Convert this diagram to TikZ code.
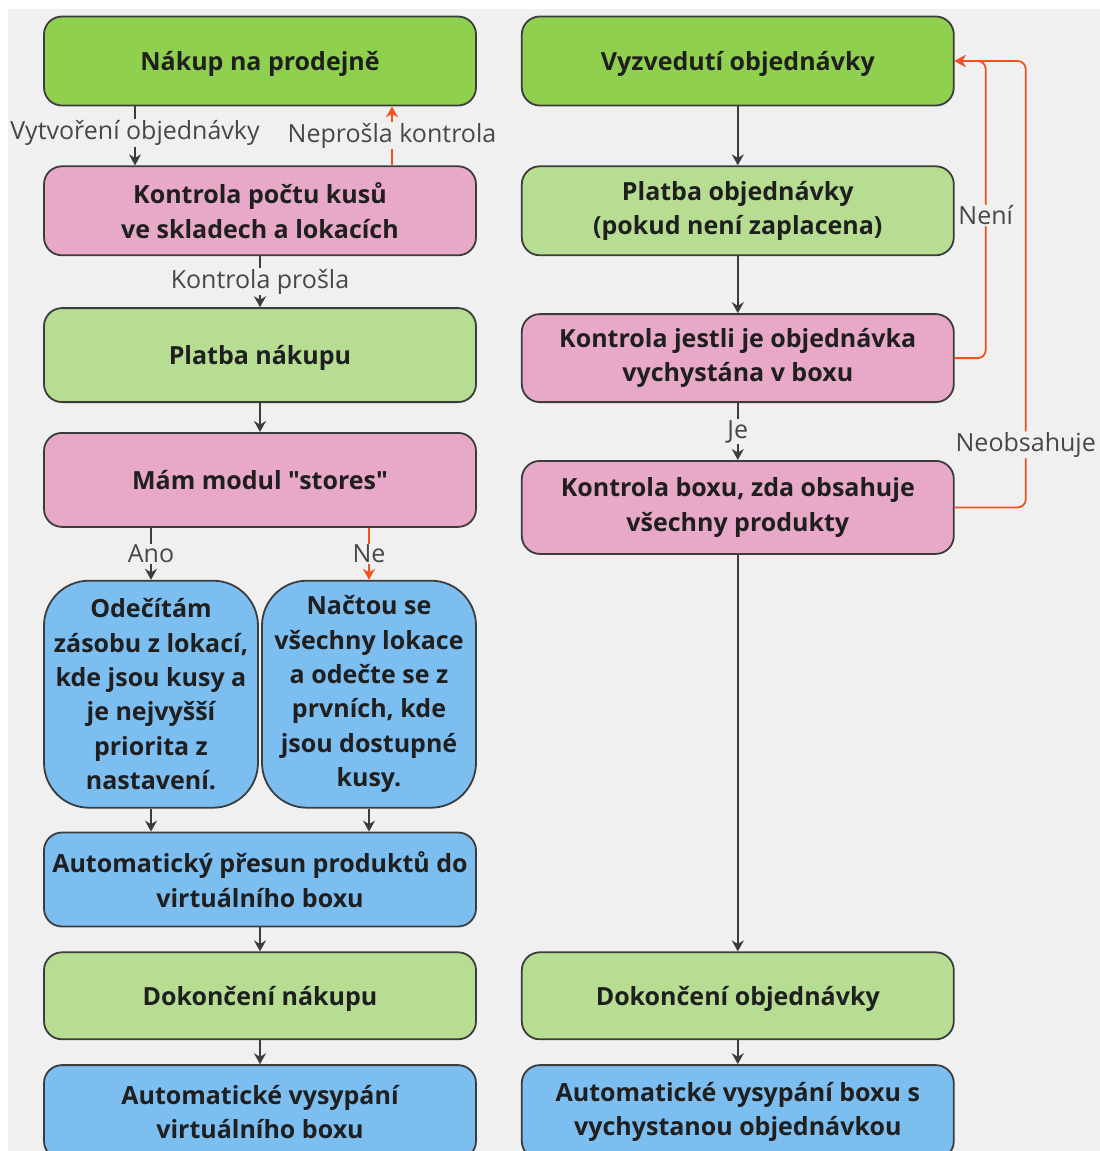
\documentclass[tikz,border=0pt]{standalone}
\usepackage{fontspec}
\setmainfont{Open Sans}[Ligatures=TeXOff]
\usepackage{xcolor}
\usetikzlibrary{positioning,arrows.meta}

\definecolor{bgGray}{HTML}{F0F0F0}
\definecolor{strongGreen}{HTML}{8FD14F}
\definecolor{paleGreen}{HTML}{B7DD93}
\definecolor{rosePink}{HTML}{E8A9C9}
\definecolor{skyBlue}{HTML}{7DBEF1}
\definecolor{lineGray}{HTML}{3C3C3C}
\definecolor{alertRed}{HTML}{F4511E}

\begin{document}
\begin{tikzpicture}[
    x=1pt, y=1pt,
    node distance=58pt,
    ->,
    >={Stealth[length=11pt,width=12pt]},
    line width=1.8pt,
    draw=lineGray
]


\tikzstyle{stage}=[
    rectangle,
    rounded corners=18pt,
    draw=lineGray,
    minimum width=432pt,
    minimum height=89pt,
    align=center,
    text=black!88,
    font=\fontsize{25}{34.4}\selectfont\bfseries
]
\tikzstyle{oneline}=[text depth=0pt]
\tikzstyle{half}=[
    stage,
    minimum width=214pt,
    minimum height=227pt,
    rounded corners=45pt
]
\tikzstyle{back}=[draw=alertRed, rounded corners=8pt]
\tikzstyle{tag}=[
    fill=bgGray,
    inner sep=1pt,
    text=black!72,
    font=\fontsize{25}{28}\selectfont
]


\useasboundingbox (0,0) rectangle (1100,-1151);
\clip (0,0) rectangle (1100,-1151);
\fill[bgGray] (8,-9) rectangle (1100,-1151);


% left column: purchase in the shop
\node[stage, oneline, fill=strongGreen] (nakup) at (260,-61) {Nákup na prodejně};
\node[stage, fill=rosePink, below=59pt of nakup] (kontrola) {Kontrola počtu kusů\\ve skladech a lokacích};
\node[stage, oneline, fill=paleGreen, minimum height=94pt, below=51pt of kontrola] (platba) {Platba nákupu};
\node[stage, oneline, fill=rosePink, minimum height=94pt, below=29pt of platba] (modul) {Mám modul "stores"};
\node[half, fill=skyBlue, below=52pt of modul.south west, anchor=north west] (odecet) {Odečítám\\zásobu z lokací,\\kde jsou kusy a\\je nejvyšší\\priorita z\\nastavení.};
\node[half, fill=skyBlue, below=52pt of modul.south east, anchor=north east] (nacteni) {Načtou se\\všechny lokace\\a odečte se z\\prvních, kde\\jsou dostupné\\kusy.};
\node[stage, fill=skyBlue, minimum height=94pt, anchor=north, yshift=-23pt] (presun) at (odecet.south -| modul.south) {Automatický přesun produktů do\\virtuálního boxu};
\node[stage, oneline, fill=paleGreen, minimum height=87pt, below=24pt of presun] (hotovo) {Dokončení nákupu};
\node[stage, fill=skyBlue, minimum height=94pt, below=24pt of hotovo] (vysyp) {Automatické vysypání\\virtuálního boxu};

% right column: picking up an order
\node[stage, oneline, fill=strongGreen, right=44pt of nakup] (vyzvednuti) {Vyzvedutí objednávky};
\node[stage, fill=paleGreen, below=59pt of vyzvednuti] (platbaObj) {Platba objednávky\\(pokud není zaplacena)};
\node[stage, fill=rosePink, minimum height=88pt, below=57pt of platbaObj] (boxKontrola) {Kontrola jestli je objednávka\\vychystána v boxu};
\node[stage, fill=rosePink, minimum height=93pt, below=57pt of boxKontrola] (obsah) {Kontrola boxu, zda obsahuje\\všechny produkty};
\node[stage, oneline, fill=paleGreen, minimum height=87pt, right=44pt of hotovo] (dokonceniObj) {Dokončení objednávky};
\node[stage, fill=skyBlue, minimum height=94pt, right=44pt of vysyp] (vysypBox) {Automatické vysypání boxu s\\vychystanou objednávkou};


\draw ([xshift=-125pt]nakup.south) -- node[tag, pos=0.45] {Vytvoření objednávky} ([xshift=-125pt]kontrola.north);
\draw[alertRed] ([xshift=132pt]kontrola.north) -- node[tag] {Neprošla kontrola} ([xshift=132pt]nakup.south);
\draw (kontrola) -- node[tag] {Kontrola prošla} (platba);
\draw (platba) -- (modul);
\draw (modul.south -| odecet) -- node[tag] {Ano} (odecet);
\draw[alertRed] (modul.south -| nacteni) -- node[tag] {Ne} (nacteni);
\draw (odecet) -- (odecet.south |- presun.north);
\draw (nacteni) -- (nacteni.south |- presun.north);
\draw (presun) -- (hotovo);
\draw (hotovo) -- (vysyp);

\draw (vyzvednuti) -- (platbaObj);
\draw (platbaObj) -- (boxKontrola);
\draw (boxKontrola) -- node[tag] {Je} (obsah);
\draw (obsah) -- (dokonceniObj);
\draw (dokonceniObj) -- (vysypBox);
\draw[back] (boxKontrola.east) -| node[tag, pos=0.74] {Není} ([xshift=31pt]vyzvednuti.east) -- (vyzvednuti.east);
\draw[back] (obsah.east) -| node[tag, pos=0.57] {Neobsahuje} ([xshift=71pt]vyzvednuti.east) -- (vyzvednuti.east);

\end{tikzpicture}
\end{document}
